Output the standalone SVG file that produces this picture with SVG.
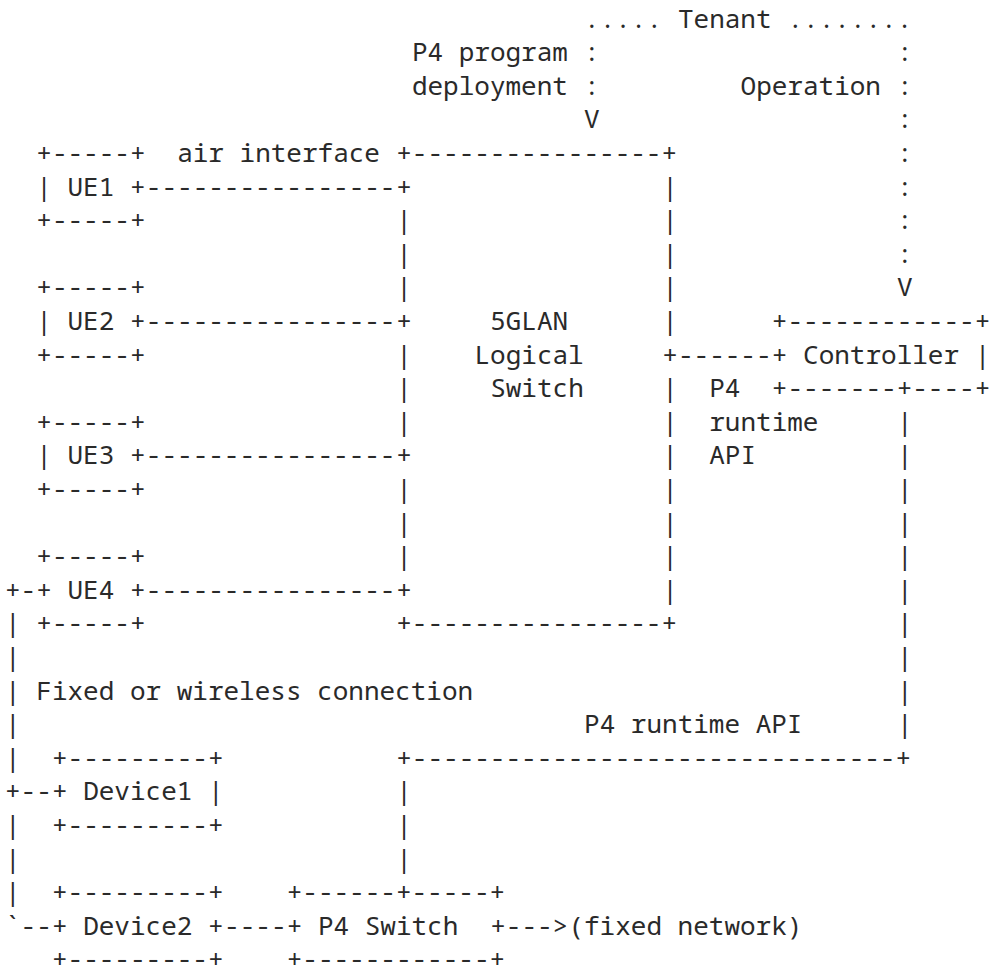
<svg xmlns="http://www.w3.org/2000/svg" width="990" height="976" viewBox="0 0 990 976">
<style>
text{font-family:"Noto Sans Mono","DejaVu Sans Mono","Liberation Mono",monospace;font-size:26px;fill:#2a2a2a;white-space:pre}
</style>
<rect width="990" height="976" fill="#fff"/>
<g id="connectors">
<text x="584.05" y="27.5">.....</text>
<text x="787.5" y="27.5">........</text>
<text><tspan x="584.05" y="61.1">:</tspan><tspan x="584.05" y="94.7">:</tspan><tspan x="584.05" y="128.3">V</tspan></text>
<text><tspan x="897.05" y="61.1">:</tspan><tspan x="897.05" y="94.7">:</tspan><tspan x="897.05" y="128.3">:</tspan><tspan x="897.05" y="161.9">:</tspan><tspan x="897.05" y="195.5">:</tspan><tspan x="897.05" y="229.1">:</tspan><tspan x="897.05" y="262.7">:</tspan><tspan x="897.05" y="296.3">V</tspan></text>
<text x="145.85" y="195.5">----------------</text>
<text x="145.85" y="329.9">----------------</text>
<text x="145.85" y="464.3">----------------</text>
<text x="145.85" y="598.7">----------------</text>
<text x="677.95" y="363.5">------</text>
<text><tspan x="897.05" y="430.7">|</tspan><tspan x="897.05" y="464.3">|</tspan><tspan x="897.05" y="497.9">|</tspan><tspan x="897.05" y="531.5">|</tspan><tspan x="897.05" y="565.1">|</tspan><tspan x="897.05" y="598.7">|</tspan><tspan x="897.05" y="632.3">|</tspan><tspan x="897.05" y="665.9">|</tspan><tspan x="897.05" y="699.5">|</tspan><tspan x="897.05" y="733.1">|</tspan></text>
<text x="396.25" y="766.7">+-------------------------------+</text>
<text><tspan x="396.25" y="800.3">|</tspan><tspan x="396.25" y="833.9">|</tspan><tspan x="396.25" y="867.5">|</tspan></text>
<text x="5" y="598.7">+-</text>
<text><tspan x="5" y="632.3">|</tspan><tspan x="5" y="665.9">|</tspan><tspan x="5" y="699.5">|</tspan><tspan x="5" y="733.1">|</tspan><tspan x="5" y="766.7">|</tspan></text>
<text x="5" y="800.3">+--</text>
<text><tspan x="5" y="833.9">|</tspan><tspan x="5" y="867.5">|</tspan><tspan x="5" y="901.1">|</tspan></text>
<text x="5" y="934.7">`--</text>
<text x="224.1" y="934.7">----</text>
<text x="505.8" y="934.7">---&gt;</text>
</g>
<g id="labels">
<text x="411.9" y="61.1">P4 program</text>
<text x="411.9" y="94.7">deployment</text>
<text x="740.55" y="94.7">Operation</text>
<text x="177.15" y="161.9">air interface</text>
<text x="709.25" y="397.1">P4</text>
<text x="709.25" y="430.7">runtime</text>
<text x="709.25" y="464.3">API</text>
<text x="36.3" y="699.5">Fixed or wireless connection</text>
<text x="584.05" y="733.1">P4 runtime API</text>
</g>
<g id="tenant">
<text x="677.95" y="27.5">Tenant</text>
</g>
<g id="ue1">
<text x="36.3" y="161.9">+-----+</text>
<text x="36.3" y="195.5">| UE1 +</text>
<text x="36.3" y="229.1">+-----+</text>
</g>
<g id="ue2">
<text x="36.3" y="296.3">+-----+</text>
<text x="36.3" y="329.9">| UE2 +</text>
<text x="36.3" y="363.5">+-----+</text>
</g>
<g id="ue3">
<text x="36.3" y="430.7">+-----+</text>
<text x="36.3" y="464.3">| UE3 +</text>
<text x="36.3" y="497.9">+-----+</text>
</g>
<g id="ue4">
<text x="36.3" y="565.1">+-----+</text>
<text x="36.3" y="598.7">+ UE4 +</text>
<text x="36.3" y="632.3">+-----+</text>
</g>
<g id="logical-switch">
<text x="396.25" y="161.9">+----------------+</text>
<text><tspan x="396.25" y="195.5">+</tspan><tspan x="396.25" y="229.1">|</tspan><tspan x="396.25" y="262.7">|</tspan><tspan x="396.25" y="296.3">|</tspan><tspan x="396.25" y="329.9">+</tspan><tspan x="396.25" y="363.5">|</tspan><tspan x="396.25" y="397.1">|</tspan><tspan x="396.25" y="430.7">|</tspan><tspan x="396.25" y="464.3">+</tspan><tspan x="396.25" y="497.9">|</tspan><tspan x="396.25" y="531.5">|</tspan><tspan x="396.25" y="565.1">|</tspan><tspan x="396.25" y="598.7">+</tspan></text>
<text><tspan x="662.3" y="195.5">|</tspan><tspan x="662.3" y="229.1">|</tspan><tspan x="662.3" y="262.7">|</tspan><tspan x="662.3" y="296.3">|</tspan><tspan x="662.3" y="329.9">|</tspan><tspan x="662.3" y="363.5">+</tspan><tspan x="662.3" y="397.1">|</tspan><tspan x="662.3" y="430.7">|</tspan><tspan x="662.3" y="464.3">|</tspan><tspan x="662.3" y="497.9">|</tspan><tspan x="662.3" y="531.5">|</tspan><tspan x="662.3" y="565.1">|</tspan><tspan x="662.3" y="598.7">|</tspan></text>
<text x="396.25" y="632.3">+----------------+</text>
<text x="490.15" y="329.9">5GLAN</text>
<text x="474.5" y="363.5">Logical</text>
<text x="490.15" y="397.1">Switch</text>
</g>
<g id="controller">
<text x="771.85" y="329.9">+------------+</text>
<text x="771.85" y="363.5">+ Controller |</text>
<text x="771.85" y="397.1">+-------+----+</text>
</g>
<g id="device1">
<text x="51.95" y="766.7">+---------+</text>
<text x="51.95" y="800.3">+ Device1 |</text>
<text x="51.95" y="833.9">+---------+</text>
</g>
<g id="device2">
<text x="51.95" y="901.1">+---------+</text>
<text x="51.95" y="934.7">+ Device2 +</text>
<text x="51.95" y="968.3">+---------+</text>
</g>
<g id="p4-switch">
<text x="286.7" y="901.1">+------+-----+</text>
<text x="286.7" y="934.7">+ P4 Switch</text>
<text x="490.15" y="934.7">+</text>
<text x="286.7" y="968.3">+------------+</text>
</g>
<g id="fixed-network">
<text x="568.4" y="934.7">(fixed network)</text>
</g>
</svg>
